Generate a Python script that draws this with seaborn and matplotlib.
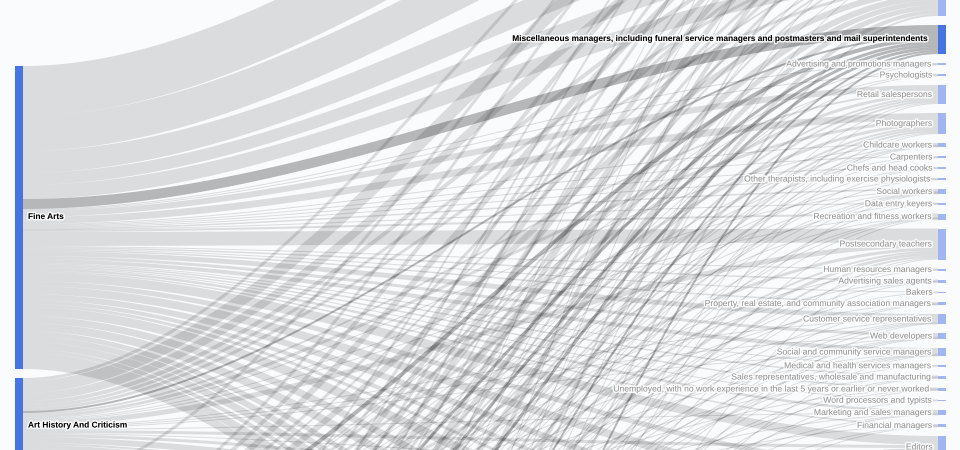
import numpy as np
import pandas as pd
import seaborn as sns
import matplotlib.pyplot as plt
import matplotlib.patheffects as pe
from matplotlib.collections import PolyCollection

# Studienfächer (linke Spalte) und Berufe (rechte Spalte)
majors = ["Fine Arts", "Art History And Criticism", "Commercial Art And Graphic Design",
          "Drama And Theater Arts", "Music", "Film Video And Photographic Arts",
          "Studio Arts", "Visual And Performing Arts", "Multi-Disciplinary Or General Art"]
major_totals = [303, 96, 55, 142, 62, 96, 200, 260, 180]

jobs = [
    # oberhalb des sichtbaren Ausschnitts
    "Chief executives and legislators",
    "Artists and related workers",
    "Designers",
    "Elementary and middle school teachers",
    "Secretaries and administrative assistants",
    "Other teachers and instructors",
    # sichtbar
    "Miscellaneous managers, including funeral service managers and postmasters and mail superintendents",
    "Advertising and promotions managers",
    "Psychologists",
    "Retail salespersons",
    "Photographers",
    "Childcare workers",
    "Carpenters",
    "Chefs and head cooks",
    "Other therapists, including exercise physiologists",
    "Social workers",
    "Data entry keyers",
    "Recreation and fitness workers",
    "Postsecondary teachers",
    "Human resources managers",
    "Advertising sales agents",
    "Bakers",
    "Property, real estate, and community association managers",
    "Customer service representatives",
    "Web developers",
    "Social and community service managers",
    "Medical and health services managers",
    "Sales representatives, wholesale and manufacturing",
    "Unemployed, with no work experience in the last 5 years or earlier or never worked",
    "Word processors and typists",
    "Marketing and sales managers",
    "Financial managers",
    "Editors",
    # unterhalb des sichtbaren Ausschnitts
    "Waiters and waitresses",
    "Miscellaneous media and communication workers",
    "Archivists, curators, and museum technicians",
    "Cashiers",
    "Librarians",
    "Managers, all other",
    "Producers and directors",
    "Secondary school teachers",
    "Sales and related workers, all other",
    "Receptionists and information clerks",
    "First-line supervisors of retail sales workers",
    "Lawyers, and judges, magistrates, and other judicial workers",
    "Painters, construction and maintenance",
    "Janitors and building cleaners",
]
job_totals = [17, 76, 70, 40, 25, 45,
              29, 2, 2, 19, 21, 4, 2, 2, 2, 5, 1.5, 6, 31, 2, 3, 1.5, 3, 10, 6, 8,
              1.5, 3, 3, 1.5, 5, 3, 22,
              14, 25, 22, 16, 12, 40, 30, 45, 18, 15, 25, 20, 12, 20]

# Ströme je Studienfach, in der Reihenfolge von jobs
flows_fine_arts = ([0, 50, 35, 22, 12, 14] + [10] +
                   [1, 1, 6, 7, 1, 1, 1, 1, 1.5, 0.5, 2, 14, 1, 1.5, 1, 1.5, 5, 3, 4, 1,
                    1.5, 1.5, 1, 2.5, 1.5, 9] +
                   [5, 8, 6, 4, 3, 9, 7, 8, 5, 6, 7, 4, 8, 8])
flows_art_history = ([3, 12, 8, 4, 3, 3] + [2] +
                     [0, 0, 2, 3, 1, 0, 0, 0, 1, 0, 1, 5, 0, 0, 0, 0, 1, 1, 1, 0,
                      0, 0, 0, 1, 0, 3] +
                     [1, 3, 6, 2, 4, 4, 3, 4, 1, 2, 3, 4, 1, 3])
flows_commercial_art = ([3, 0, 0, 0, 0, 0] + [0] +
                        [0] * 26 +
                        [2, 3, 2, 2, 1, 3, 3, 4, 2, 1, 2, 2, 1, 2])
flows_drama = ([3, 4, 6, 3, 2, 6] + [4] +
               [0.5, 0.5, 3, 3, 0.5, 0.5, 0, 0.5, 0.5, 0.5, 1, 3, 0.5, 0.5, 0, 0.5,
                1, 0.5, 1, 0, 0.5, 0.5, 0, 0.5, 0.5, 3] +
               [0] * 14)
flows_music = ([2, 3, 5, 3, 2, 6] + [3] +
               [0, 0.5, 2, 2, 0.5, 0, 0.5, 0, 0.5, 0, 0.5, 2, 0, 0.5, 0.5, 0,
                1, 0.5, 0.5, 0.5, 0, 0.5, 0, 0.5, 0, 2] +
               [0] * 14)
flows_film = ([2, 3, 5, 3, 2, 5] + [3] +
              [0.5, 0, 2, 2, 0.5, 0.5, 0, 0.5, 0.5, 0, 0.5, 3, 0.5, 0, 0, 0.5,
               1, 0.5, 0.5, 0, 0.5, 0, 0.5, 0.5, 0.5, 2] +
              [0] * 14)
flows_studio = ([2, 2, 5, 3, 2, 5] + [3] +
                [0, 0, 2, 2, 0.5, 0, 0.5, 0, 0.5, 0.5, 0.5, 2, 0, 0.5, 0, 0.5,
                 0.5, 0.5, 0.5, 0, 0.5, 0.5, 0, 0, 0.5, 1.5] +
                [0] * 14)
flows_visual = ([1, 1, 4, 1, 1, 4] + [2] +
                [0, 0, 1, 1, 0, 0, 0, 0, 0.5, 0, 0.5, 1, 0, 0, 0, 0,
                 0.5, 0, 0.5, 0, 0, 0, 0, 0, 0, 1] +
                [0] * 14)
flows_general_art = ([1, 1, 2, 1, 1, 2] + [2] +
                     [0, 0, 1, 1, 0, 0, 0, 0, 0, 0, 0, 1, 0, 0, 0, 0,
                      0, 0, 0, 0, 0, 0, 0, 0, 0, 0.5] +
                     [0] * 14)
flows = [flows_fine_arts, flows_art_history, flows_commercial_art, flows_drama,
         flows_music, flows_film, flows_studio, flows_visual, flows_general_art]

highlight = "Miscellaneous managers, including funeral service managers and postmasters and mail superintendents"

# Layout (Pixel)
W, H, DPI = 960, 450, 100
node_pad = 9
node_w = 8
left_x, right_x = 15, 938
left_top, right_top = 66, -302

F = np.array(flows, dtype=float)
src_h = np.maximum(major_totals, F.sum(axis=1))
tgt_h = np.maximum(job_totals, F.sum(axis=0))
src_y = left_top + np.concatenate([[0], np.cumsum(src_h + node_pad)[:-1]])
tgt_y = right_top + np.concatenate([[0], np.cumsum(tgt_h + node_pad)[:-1]])

# Startpositionen der Ströme an Quelle und Ziel
src_off = src_y[:, None] + np.cumsum(F, axis=1) - F
tgt_off = tgt_y[None, :] + np.cumsum(F, axis=0) - F

u = np.linspace(0, 1, 120)
x0, x1 = left_x + node_w, right_x
thin_rows = []
wide_polys = {False: [], True: []}
link_id = 0
for i in range(len(majors)):
    for j in range(len(jobs)):
        w = F[i, j]
        if w <= 0:
            continue
        hl = jobs[j] == highlight
        ya = src_off[i, j] + w / 2
        yb = tgt_off[i, j] + w / 2
        xs = x0 + (x1 - x0) * u
        ys = ya + (yb - ya) * (3 * u**2 - 2 * u**3)
        if w <= 3:
            # schmale Ströme als Linien
            for xx, yy in zip(xs, ys):
                thin_rows.append((link_id, xx, yy, max(w, 1.0), hl))
        else:
            # breite Ströme als Fläche mit konstanter Strichbreite
            dx = np.full_like(u, x1 - x0)
            dy = (yb - ya) * 6 * u * (1 - u)
            norm = np.hypot(dx, dy)
            nx, ny = -dy / norm, dx / norm
            upper = np.column_stack([xs + nx * w / 2, ys + ny * w / 2])
            lower = np.column_stack([xs - nx * w / 2, ys - ny * w / 2])
            wide_polys[hl].append(np.vstack([upper, lower[::-1]]))
        link_id += 1
links = pd.DataFrame(thin_rows, columns=["link", "x", "y", "width", "hl"])

sns.set_theme(style="white")
plt.rcParams["font.family"] = ["Liberation Sans", "DejaVu Sans"]

fig = plt.figure(figsize=(W / DPI, H / DPI), dpi=DPI)
fig.patch.set_facecolor("#fafbfd")
ax = fig.add_axes([0, 0, 1, 1])
ax.set_facecolor("#fafbfd")

px = 72 / DPI
for hl, alpha in [(False, 0.12), (True, 0.27)]:
    ax.add_collection(PolyCollection(wide_polys[hl], facecolors=(0, 0, 0, alpha),
                                     edgecolors="none"))
    sub = links[links["hl"] == hl]
    widths = sorted(sub["width"].unique())
    sns.lineplot(data=sub, x="x", y="y", units="link", estimator=None, size="width",
                 sizes={w: w * px for w in widths}, color="black", alpha=alpha,
                 sort=False, legend=False, solid_capstyle="butt", ax=ax)

# Knoten
ax.bar([left_x] * len(majors), src_h, bottom=src_y, width=node_w, align="edge",
       color="#4674e0", linewidth=0)
tgt_colors = ["#4674e0" if j == highlight else "#a1b6f0" for j in jobs]
ax.bar([right_x] * len(jobs), tgt_h, bottom=tgt_y, width=node_w, align="edge",
       color=tgt_colors, linewidth=0)

# Beschriftungen nur für Knoten im Ausschnitt
halo = [pe.withStroke(linewidth=2.2, foreground=(1, 1, 1, 0.85))]
for name, y, h in zip(majors, src_y, src_h):
    yc = y + h / 2
    if 0 < yc < H:
        ax.text(left_x + node_w + 5, yc, name, ha="left", va="center",
                fontsize=6.0, fontweight="bold", color="black", path_effects=halo)
for name, y, h in zip(jobs, tgt_y, tgt_h):
    yc = y + h / 2
    if 0 < yc < H:
        hl = name == highlight
        ax.text(right_x - (1 if hl else 5), yc, name, ha="right", va="center",
                fontsize=6.0 if hl else 6.2, fontweight="bold" if hl else "normal",
                color="black" if hl else "#939393", path_effects=halo)

ax.set_xlim(0, W)
ax.set_ylim(H, 0)
ax.axis("off")

fig.savefig("out.png", dpi=DPI, facecolor=fig.get_facecolor())
